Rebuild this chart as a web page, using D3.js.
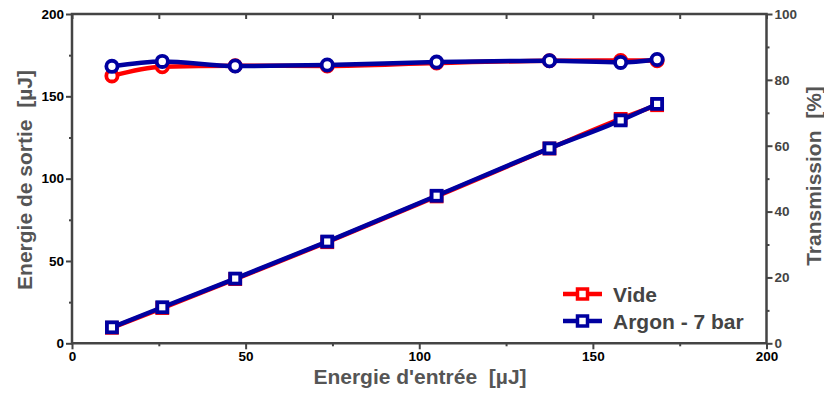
<!DOCTYPE html>
<html><head><meta charset="utf-8">
<script src="https://cdn.jsdelivr.net/npm/d3@7"></script>
<style>body{margin:0;background:#fff}svg{display:block}text{font-family:Arial,"Liberation Sans",sans-serif;font-weight:bold;white-space:pre}</style>
</head><body><svg id="c" width="824" height="395"></svg>
<script>
const inputEnergy = [11.5, 26, 47, 73.5, 105, 137.5, 158, 168.5];
const outVide = [9.4, 21.4, 39.0, 61.4, 89.2, 118.3, 136.3, 144.6];
const outArgon = [9.7, 21.9, 39.3, 61.8, 89.6, 118.4, 135.4, 145.4];
const transVide = [81.2, 84.0, 84.3, 84.2, 85.1, 85.8, 85.9, 85.8];
const transArgon = [84.1, 85.6, 84.2, 84.5, 85.4, 85.8, 85.3, 86.2];
const xTicks = [0, 50, 100, 150, 200];
const yTicks = [0, 50, 100, 150, 200];
const y2Ticks = [0, 20, 40, 60, 80, 100];
const seriesNames = ["Vide", "Argon - 7 bar"];
const colors = ["#ff0000", "#0000a0"];

const svg = d3.select("#c");
const L = 72, R = 766.5, T = 14, B = 343.3;
const x = d3.scaleLinear().domain([0, 200]).range([L, R]);
const y = d3.scaleLinear().domain([0, 200]).range([B, T]);
const y2 = d3.scaleLinear().domain([0, 100]).range([B, T]);
const axisCol = "#444";

function styleAxis(g, col) {
  g.select(".domain").remove();
  g.selectAll("line").attr("stroke", axisCol).attr("stroke-width", 2);
  g.selectAll("text").attr("font-size", 13.5).attr("fill", col);
}
const minorX = d3.range(25, 200, 50), minorY = d3.range(25, 200, 50), minorY2 = d3.range(10, 100, 20);

svg.append("g").attr("transform", `translate(0,${B})`)
  .call(d3.axisBottom(x).tickValues(xTicks).tickSize(6).tickPadding(2)).call(g => styleAxis(g, "#000"));
svg.append("g").attr("transform", `translate(0,${B})`)
  .call(d3.axisBottom(x).tickValues(minorX).tickSize(3).tickFormat("")).call(g => styleAxis(g, "#000"));
svg.append("g").attr("transform", `translate(0,${T})`)
  .call(d3.axisBottom(x).tickValues(xTicks.concat(minorX)).tickSize(5).tickFormat("")).call(g => styleAxis(g, "#000"));
svg.append("g").attr("transform", `translate(${L},0)`)
  .call(d3.axisLeft(y).tickValues(yTicks).tickSize(6).tickPadding(2)).call(g => styleAxis(g, "#000"));
svg.append("g").attr("transform", `translate(${L},0)`)
  .call(d3.axisLeft(y).tickValues(minorY).tickSize(3).tickFormat("")).call(g => styleAxis(g, "#000"));
svg.append("g").attr("transform", `translate(${R},0)`)
  .call(d3.axisRight(y2).tickValues(y2Ticks).tickSize(6).tickPadding(2)).call(g => styleAxis(g, "#444"));
svg.append("g").attr("transform", `translate(${R},0)`)
  .call(d3.axisRight(y2).tickValues(minorY2).tickSize(3).tickFormat("")).call(g => styleAxis(g, "#444"));

svg.append("path").attr("d", `M${L},${T}H${R}V${B}H${L}Z`).attr("fill", "none").attr("stroke", axisCol).attr("stroke-width", 2.5);

svg.append("text").attr("x", 420).attr("y", 384).attr("text-anchor", "middle").attr("font-size", 21).attr("fill", "#555").text("Energie d'entrée  [µJ]");
svg.append("text").attr("transform", "translate(32,180) rotate(-90)").attr("text-anchor", "middle").attr("font-size", 21).attr("fill", "#555").text("Energie de sortie  [µJ]");
svg.append("text").attr("transform", "translate(821,176) rotate(-90)").attr("text-anchor", "middle").attr("font-size", 21).attr("fill", "#555").text("Transmission  [%]");

const line = (ys, sc) => d3.line().x((d, i) => x(inputEnergy[i])).y(d => sc(d)).curve(d3.curveMonotoneX)(ys);
const outs = [outVide, outArgon], trans = [transVide, transArgon];
[0, 1].forEach(k => {
  svg.append("path").attr("d", line(outs[k], y)).attr("fill", "none").attr("stroke", colors[k]).attr("stroke-width", 4.5);
  svg.append("path").attr("d", line(trans[k], y2)).attr("fill", "none").attr("stroke", colors[k]).attr("stroke-width", 4.5);
  svg.selectAll(null).data(outs[k]).enter().append("rect")
    .attr("x", (d, i) => x(inputEnergy[i]) - 5).attr("y", d => y(d) - 5).attr("width", 10).attr("height", 10)
    .attr("fill", "#fff").attr("stroke", colors[k]).attr("stroke-width", 3.8);
  svg.selectAll(null).data(trans[k]).enter().append("circle")
    .attr("cx", (d, i) => x(inputEnergy[i])).attr("cy", d => y2(d)).attr("r", 5.6)
    .attr("fill", "#fff").attr("stroke", colors[k]).attr("stroke-width", 3.8);
});

seriesNames.forEach((n, k) => {
  const ly = 294 + k * 27;
  svg.append("line").attr("x1", 563).attr("x2", 602).attr("y1", ly).attr("y2", ly).attr("stroke", colors[k]).attr("stroke-width", 4.5);
  svg.append("rect").attr("x", 577.5).attr("y", ly - 5).attr("width", 10).attr("height", 10).attr("fill", "#fff").attr("stroke", colors[k]).attr("stroke-width", 3.5);
  svg.append("text").attr("x", 613).attr("y", ly + 7.5).attr("font-size", 21).attr("fill", "#444").text(n);
});
</script></body></html>
